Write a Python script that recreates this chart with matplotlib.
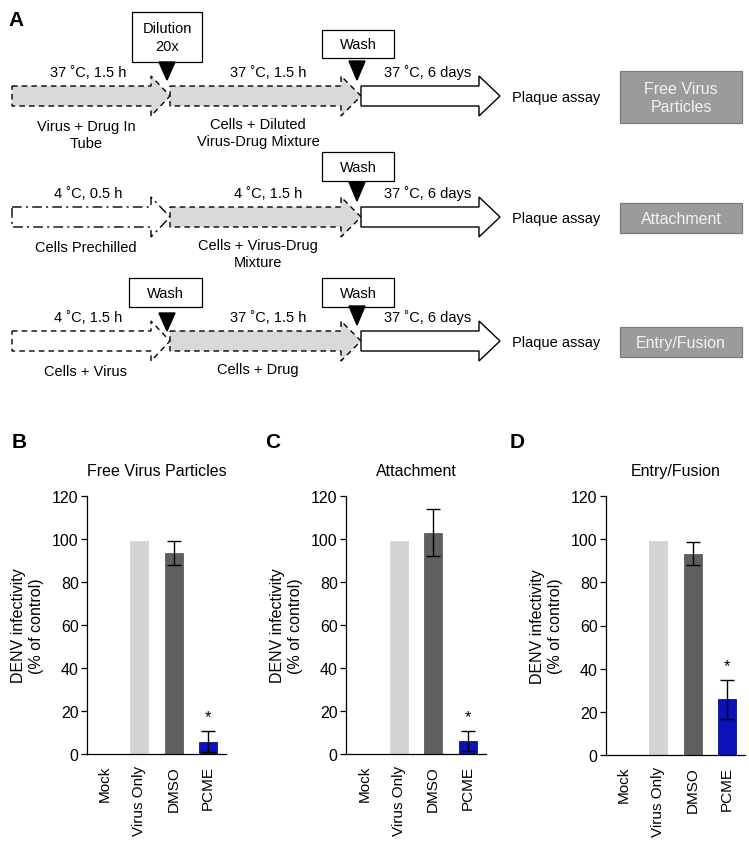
import numpy as np
import matplotlib
matplotlib.use("Agg")
import matplotlib.pyplot as plt
from matplotlib.patches import Polygon, Rectangle

plt.rcParams['font.family'] = ['Liberation Sans', 'DejaVu Sans']

# ---------------- data for panels B-D ----------------
categories = ['Mock', 'Virus Only', 'DMSO', 'PCME']
bar_colors = ['#ffffff', '#d4d4d4', '#5f5f5f', '#0a12b8']

titles = ['Free Virus Particles', 'Attachment', 'Entry/Fusion']
panel_letters = ['B', 'C', 'D']

free_vals = [0, 99, 93.5, 5.8]
free_err = [0, 0, 5.5, 5.0]
attach_vals = [0, 99, 103, 6.2]
attach_err = [0, 0, 11, 4.7]
entry_vals = [0, 99, 93.3, 25.8]
entry_err = [0, 0, 5.2, 9.0]
star_on = [False, False, False, True]

# ---------------- text for panel A ----------------
row_titles = ['Free Virus\nParticles', 'Attachment', 'Entry/Fusion']
step1_top = ['37 \u02daC, 1.5 h', '4 \u02daC, 0.5 h', '4 \u02daC, 1.5 h']
step1_bot = ['Virus + Drug In\nTube', 'Cells Prechilled', 'Cells + Virus']
step2_top = ['37 \u02daC, 1.5 h', '4 \u02daC, 1.5 h', '37 \u02daC, 1.5 h']
step2_bot = ['Cells + Diluted\nVirus-Drug Mixture', 'Cells + Virus-Drug\nMixture', 'Cells + Drug']
step3_top = '37 \u02daC, 6 days'

W, H = 749, 853
fig = plt.figure(figsize=(W / 100, H / 100), dpi=100)

# ---------------- panel A (schematic) ----------------
ax0 = fig.add_axes([0, 0, 1, 1])
ax0.set_xlim(0, W)
ax0.set_ylim(H, 0)
ax0.axis('off')


def arrow(x0, xh, xt, yc, face, ls, lw=1.0):
    pts = [(x0, yc - 10), (xh, yc - 10), (xh, yc - 20), (xt, yc),
           (xh, yc + 20), (xh, yc + 10), (x0, yc + 10)]
    ax0.add_patch(Polygon(pts, closed=True, facecolor=face, edgecolor='black',
                          linestyle=ls, linewidth=lw, zorder=2))


def tri(x, ytop, ybot):
    ax0.add_patch(Polygon([(x - 8, ytop), (x + 8, ytop), (x, ybot)], closed=True,
                          facecolor='black', edgecolor='black', zorder=4))


def box(x0, x1, y0, y1, txt):
    ax0.add_patch(Rectangle((x0, y0), x1 - x0, y1 - y0, facecolor='white',
                            edgecolor='black', linewidth=0.9, zorder=3))
    ax0.text((x0 + x1) / 2, (y0 + y1) / 2, txt, ha='center', va='center',
             fontsize=10.5, linespacing=1.3, zorder=4)


ax0.text(8, 20, 'A', fontsize=15, fontweight='bold', ha='left', va='center')

row_y = [97, 218, 342]
first_style = [('#d9d9d9', (0, (4, 3))), ('white', (0, (7, 3, 1.5, 3))), ('white', (0, (4, 3)))]
for i, yc in enumerate(row_y):
    face, ls = first_style[i]
    arrow(12, 151, 170, yc, face, ls)
    arrow(170, 341, 361, yc, '#d9d9d9', (0, (4, 3)))
    arrow(361, 479, 500, yc, 'white', '-', 1.0)
    ax0.text(88, yc - 24, step1_top[i], ha='center', va='center', fontsize=10.5)
    ax0.text(268, yc - 24, step2_top[i], ha='center', va='center', fontsize=10.5)
    ax0.text(428, yc - 24, step3_top, ha='center', va='center', fontsize=10.5)
    ax0.text(86, yc + 23, step1_bot[i], ha='center', va='top', fontsize=10.5,
             linespacing=1.3)
    ax0.text(258, yc + 21, step2_bot[i], ha='center', va='top', fontsize=10.5,
             linespacing=1.3)
    ax0.text(512, yc + 1, 'Plaque assay', ha='left', va='center', fontsize=10.5)
    bh = 52 if i == 0 else 30
    ax0.add_patch(Rectangle((620, yc + 1 - bh / 2), 122, bh, facecolor='#9b9b9b',
                            edgecolor='#7a7a7a', linewidth=0.9))
    ax0.text(681, yc + 1, row_titles[i], ha='center', va='center', fontsize=11.5,
             color='#f2f2f2', linespacing=1.25)
    # triangle before the final incubation
    tri(357, yc - 35, yc - 16)

# boxes and extra triangles
box(132, 202, 13, 63, 'Dilution\n20x')
tri(167, 63, 81)
box(322, 394, 31, 59, 'Wash')
box(322, 394, 153, 182, 'Wash')
box(129, 202, 279, 308, 'Wash')
tri(167, 314, 332)
box(322, 394, 279, 308, 'Wash')

# ---------------- panels B-D ----------------
vals_all = [free_vals, attach_vals, entry_vals]
err_all = [free_err, attach_err, entry_err]
axes_px = [(87, 226, 755), (346, 486, 755), (606, 745, 756)]
letter_x = [12, 265, 510]
x = np.arange(len(categories))

for k in range(3):
    left, right, y0 = axes_px[k]
    top = 497
    ax = fig.add_axes([left / W, (H - y0) / H, (right - left) / W, (y0 - top) / H])
    vals = vals_all[k]
    errs = err_all[k]
    for j in range(len(categories)):
        if vals[j] <= 0:
            continue
        ec = '#06108a' if j == 3 else bar_colors[j]
        ax.bar(x[j], vals[j], width=0.53, color=bar_colors[j], edgecolor=ec,
               linewidth=0.6, zorder=2)
        if errs[j] > 0:
            ax.errorbar(x[j], vals[j], yerr=errs[j], fmt='none', ecolor='black',
                        elinewidth=1.0, capsize=5, capthick=1.0, zorder=3)
        if star_on[j]:
            ax.text(x[j], vals[j] + errs[j] + 3, '*', ha='center', va='bottom',
                    fontsize=12)
    ax.set_xlim(-0.53, 3.53)
    ax.set_ylim(0, 120)
    ax.set_yticks(np.arange(0, 121, 20))
    ax.set_xticks(x)
    ax.set_xticklabels(categories, rotation=90, fontsize=11)
    ax.tick_params(axis='x', length=0, pad=8)
    ax.tick_params(axis='y', labelsize=11.5, length=4, width=0.9, pad=2)
    for s in ['top', 'right']:
        ax.spines[s].set_visible(False)
    for s in ['left', 'bottom']:
        ax.spines[s].set_linewidth(0.9)
    ax.set_ylabel('DENV infectivity\n(% of control)', fontsize=11.5, labelpad=6,
                  linespacing=1.2)
    ax.set_title(titles[k], fontsize=11.5, pad=15)
    fig.text(letter_x[k] / W, 1 - 443 / H, panel_letters[k], fontsize=15,
             fontweight='bold', ha='left', va='center')

fig.savefig('out.png', dpi=100)
